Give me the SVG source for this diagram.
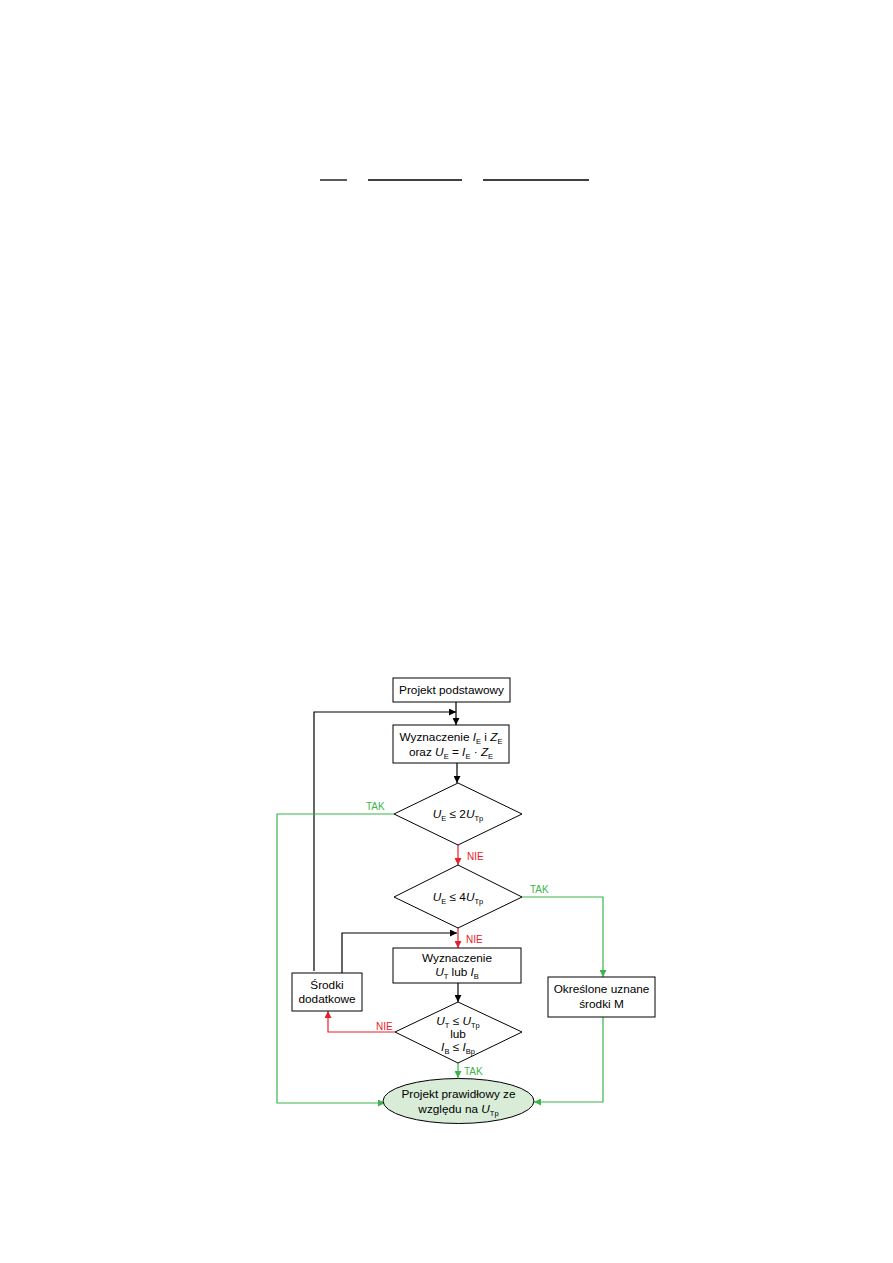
<svg xmlns="http://www.w3.org/2000/svg" width="893" height="1263" viewBox="0 0 893 1263">
<defs>
<style>
.t{font-family:"Liberation Sans",Arial,sans-serif;font-size:11.8px;fill:#000;text-anchor:middle}
.s{font-size:7.5px}
.i{font-style:italic}
.box{fill:#fff;stroke:#000;stroke-width:1}
.k{fill:none;stroke:#000;stroke-width:1.2}
.g{fill:none;stroke:#3cb44b;stroke-width:1.2}
.r{fill:none;stroke:#e8202a;stroke-width:1.2}
.lg{font-family:"Liberation Sans",Arial,sans-serif;font-size:10px;fill:#3cb44b}
.lr{font-family:"Liberation Sans",Arial,sans-serif;font-size:10px;fill:#e8202a}
</style>
<marker id="ak" viewBox="0 0 10 10" refX="10" refY="5" markerWidth="7" markerHeight="7" markerUnits="userSpaceOnUse" orient="auto"><path d="M0,0L10,5L0,10z" fill="#000"/></marker>
<marker id="ag" viewBox="0 0 10 10" refX="10" refY="5" markerWidth="7" markerHeight="7" markerUnits="userSpaceOnUse" orient="auto"><path d="M0,0L10,5L0,10z" fill="#3cb44b"/></marker>
<marker id="ar" viewBox="0 0 10 10" refX="10" refY="5" markerWidth="7" markerHeight="7" markerUnits="userSpaceOnUse" orient="auto"><path d="M0,0L10,5L0,10z" fill="#e8202a"/></marker>
</defs>
<rect width="893" height="1263" fill="#fff"/>
<g id="toplines" stroke="#000" stroke-width="1.3">
<line x1="320" y1="180" x2="347" y2="180"/>
<line x1="368" y1="180" x2="462" y2="180"/>
<line x1="483" y1="180" x2="589" y2="180"/>
</g>
<g id="connectors">
<line class="k" x1="456" y1="702" x2="456" y2="725" marker-end="url(#ak)"/>
<polyline class="k" points="314,971 314,712 456,712" marker-end="url(#ak)"/>
<line class="k" x1="457" y1="763" x2="457" y2="783" marker-end="url(#ak)"/>
<line class="r" x1="458" y1="845" x2="458" y2="865" marker-end="url(#ar)"/>
<polyline class="g" points="394,814 277,814 277,1103 385,1103" marker-end="url(#ag)"/>
<polyline class="g" points="522,897 603,897 603,977" marker-end="url(#ag)"/>
<line class="r" x1="458" y1="927" x2="458" y2="948" marker-end="url(#ar)"/>
<polyline class="k" points="342,973 342,933 457,933" marker-end="url(#ak)"/>
<line class="k" x1="458" y1="983" x2="458" y2="1002" marker-end="url(#ak)"/>
<polyline class="r" points="395,1032 328,1032 328,1011" marker-end="url(#ar)"/>
<line class="g" x1="458" y1="1063" x2="458" y2="1078" marker-end="url(#ag)"/>
<polyline class="g" points="603,1017 603,1102 534,1102" marker-end="url(#ag)"/>
<text class="lg" x="366" y="810">TAK</text>
<text class="lr" x="467" y="860">NIE</text>
<text class="lg" x="530" y="893">TAK</text>
<text class="lr" x="466" y="943">NIE</text>
<text class="lr" x="376" y="1030">NIE</text>
<text class="lg" x="464" y="1075">TAK</text>
</g>
<g id="n1">
<rect class="box" x="393" y="678" width="117" height="24"/>
<text class="t" x="451.5" y="694">Projekt podstawowy</text>
</g>
<g id="n2">
<rect class="box" x="393" y="725" width="116" height="38"/>
<text class="t" x="451" y="741">Wyznaczenie <tspan class="i">I</tspan><tspan class="s" dy="3">E</tspan><tspan dy="-3"> i </tspan><tspan class="i">Z</tspan><tspan class="s" dy="3">E</tspan></text>
<text class="t" x="451" y="756">oraz <tspan class="i">U</tspan><tspan class="s" dy="3">E</tspan><tspan dy="-3"> = </tspan><tspan class="i">I</tspan><tspan class="s" dy="3">E</tspan><tspan dy="-3"> · </tspan><tspan class="i">Z</tspan><tspan class="s" dy="3">E</tspan></text>
</g>
<g id="d1">
<polygon class="box" points="458,783 522,814 458,845 394,814"/>
<text class="t" x="458" y="818"><tspan class="i">U</tspan><tspan class="s" dy="3">E</tspan><tspan dy="-3"> ≤ 2</tspan><tspan class="i">U</tspan><tspan class="s" dy="3">Tp</tspan></text>
</g>
<g id="d2">
<polygon class="box" points="458,865 522,897 458,928 394,897"/>
<text class="t" x="458" y="901"><tspan class="i">U</tspan><tspan class="s" dy="3">E</tspan><tspan dy="-3"> ≤ 4</tspan><tspan class="i">U</tspan><tspan class="s" dy="3">Tp</tspan></text>
</g>
<g id="n3">
<rect class="box" x="393" y="948" width="128" height="35"/>
<text class="t" x="457" y="962">Wyznaczenie</text>
<text class="t" x="457" y="976"><tspan class="i">U</tspan><tspan class="s" dy="3">T</tspan><tspan dy="-3"> lub </tspan><tspan class="i">I</tspan><tspan class="s" dy="3">B</tspan></text>
</g>
<g id="d3">
<polygon class="box" points="458,1002 522,1032 458,1063 395,1032"/>
<text class="t" x="458" y="1025"><tspan class="i">U</tspan><tspan class="s" dy="3">T</tspan><tspan dy="-3"> ≤ </tspan><tspan class="i">U</tspan><tspan class="s" dy="3">Tp</tspan></text>
<text class="t" x="458" y="1038">lub</text>
<text class="t" x="458" y="1051"><tspan class="i">I</tspan><tspan class="s" dy="3">B</tspan><tspan dy="-3"> ≤ </tspan><tspan class="i">I</tspan><tspan class="s" dy="3">Bp</tspan></text>
</g>
<g id="n4">
<rect class="box" x="292" y="973" width="70" height="38"/>
<text class="t" x="327" y="989">Środki</text>
<text class="t" x="327" y="1003">dodatkowe</text>
</g>
<g id="n5">
<rect class="box" x="548" y="977" width="107" height="40"/>
<text class="t" x="601.5" y="993">Określone uznane</text>
<text class="t" x="601.5" y="1008">środki M</text>
</g>
<g id="n6">
<ellipse cx="458.5" cy="1101" rx="75.5" ry="22.5" fill="#d8ecd8" stroke="#000" stroke-width="1"/>
<text class="t" x="458.5" y="1098">Projekt prawidłowy ze</text>
<text class="t" x="458.5" y="1113">względu na <tspan class="i">U</tspan><tspan class="s" dy="3">Tp</tspan></text>
</g>
</svg>
